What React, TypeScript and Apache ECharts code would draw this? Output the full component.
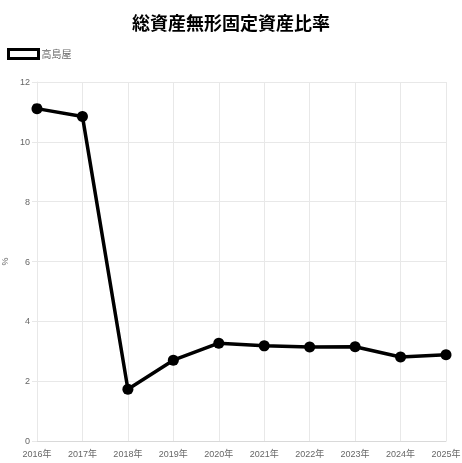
import { useEffect, useRef } from 'react';
import * as echarts from 'echarts';

const years = ['2016年', '2017年', '2018年', '2019年', '2020年', '2021年', '2022年', '2023年', '2024年', '2025年'];
const takashimaya = [11.11, 10.85, 1.73, 2.7, 3.27, 3.18, 3.14, 3.15, 2.81, 2.88];
const seriesName = '高島屋';
const chartTitle = '総資産無形固定資産比率';

const FONT = '"Liberation Sans", Arial, "Noto Sans CJK JP", sans-serif';

export default function App() {
  const box = useRef<HTMLDivElement>(null);

  useEffect(() => {
    if (!box.current) return;
    const chart = echarts.init(box.current, undefined, { renderer: 'svg' });
    chart.setOption({
      animation: false,
      textStyle: { fontFamily: FONT },
      title: {
        text: chartTitle,
        left: 'center',
        top: 13,
        padding: 0,
        textStyle: {
          fontFamily: '"Noto Sans CJK JP", sans-serif',
          fontSize: 18,
          fontWeight: 'bold',
          color: '#000',
        },
      },
      legend: {
        left: 7,
        top: 48,
        padding: 0,
        itemWidth: 30,
        itemHeight: 9,
        itemGap: 4,
        icon: 'rect',
        data: [
          {
            name: seriesName,
            itemStyle: { color: '#fff', borderColor: '#000', borderWidth: 3 },
          },
        ],
        textStyle: { fontSize: 10, color: '#666', padding: [0, 0, 0, -2] },
      },
      grid: { left: 37, right: 16, top: 82, bottom: 22, containLabel: false, outerBoundsMode: 'none' },
      xAxis: {
        type: 'category',
        data: years,
        boundaryGap: false,
        axisLine: { lineStyle: { color: '#d9d9d9' } },
        axisTick: { show: false },
        axisLabel: { color: '#666', fontSize: 9, margin: 8 },
        splitLine: { show: true, lineStyle: { color: '#e8e8e8' } },
      },
      yAxis: {
        type: 'value',
        min: 0,
        max: 12,
        interval: 2,
        name: '%',
        nameLocation: 'middle',
        nameGap: 25,
        nameRotate: 90,
        nameTextStyle: { color: '#666', fontSize: 9 },
        axisLine: { show: true, lineStyle: { color: '#e8e8e8' } },
        axisTick: { show: true, length: 5, lineStyle: { color: '#e8e8e8' } },
        axisLabel: { color: '#666', fontSize: 9, margin: 7 },
        splitLine: { lineStyle: { color: '#e8e8e8' } },
      },
      series: [
        {
          name: seriesName,
          type: 'line',
          data: takashimaya,
          symbol: 'circle',
          symbolSize: 11,
          lineStyle: { color: '#000', width: 3.5 },
          itemStyle: { color: '#000' },
        },
      ],
    });
    return () => chart.dispose();
  }, []);

  return <div ref={box} style={{ position: 'fixed', left: 0, top: 0, width: 462, height: 463 }} />;
}
